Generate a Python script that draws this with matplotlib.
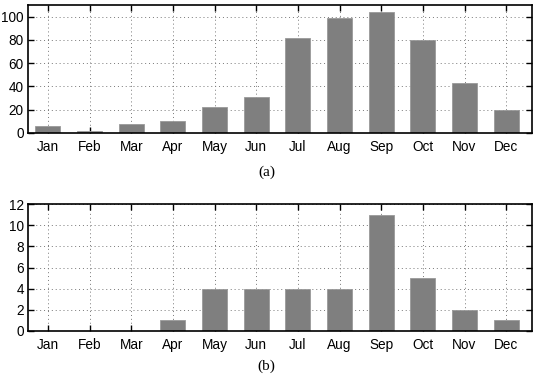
import numpy as np
import matplotlib
matplotlib.use("Agg")
import matplotlib.pyplot as plt

months = ["Jan", "Feb", "Mar", "Apr", "May", "Jun",
          "Jul", "Aug", "Sep", "Oct", "Nov", "Dec"]
counts_a = [6, 2, 8, 10, 22, 31, 82, 99, 104, 80, 43, 20]
counts_b = [0, 0, 0, 1, 4, 4, 4, 4, 11, 5, 2, 1]

plt.rcParams["font.family"] = ["Liberation Sans", "DejaVu Sans"]

fig = plt.figure(figsize=(5.33, 3.8), dpi=100)
ax_a = fig.add_axes([0.0525, 0.65, 0.9456, 0.337])
ax_b = fig.add_axes([0.0525, 0.129, 0.9456, 0.334])


def style_axes(ax, values, ymax, yticks):
    x = np.arange(1, len(months) + 1)
    ax.bar(x, values, width=0.6, color="#7f7f7f", edgecolor="#9a9a9a",
           linewidth=0.6, zorder=2)
    ax.set_xlim(0.52, 12.62)
    ax.set_ylim(0, ymax)
    ax.set_xticks(x)
    ax.set_xticklabels(months)
    ax.set_yticks(yticks)
    ax.tick_params(direction="in", top=True, right=True, length=4,
                   width=1, labelsize=9.8, pad=5)
    ax.tick_params(axis="y", pad=3)
    ax.grid(True, linestyle=(0, (1, 3)), color="#777777", linewidth=0.7,
            zorder=0)
    ax.set_axisbelow(True)
    for sp in ax.spines.values():
        sp.set_linewidth(1.2)


style_axes(ax_a, counts_a, 110, [0, 20, 40, 60, 80, 100])
style_axes(ax_b, counts_b, 12, [0, 2, 4, 6, 8, 10, 12])

fig.text(0.5, 1 - 172 / 380, "(a)", ha="center", va="center",
         family="Liberation Serif", fontsize=11)
fig.text(0.5, 1 - 366 / 380, "(b)", ha="center", va="center",
         family="Liberation Serif", fontsize=11)

fig.savefig("out.png", dpi=100)
